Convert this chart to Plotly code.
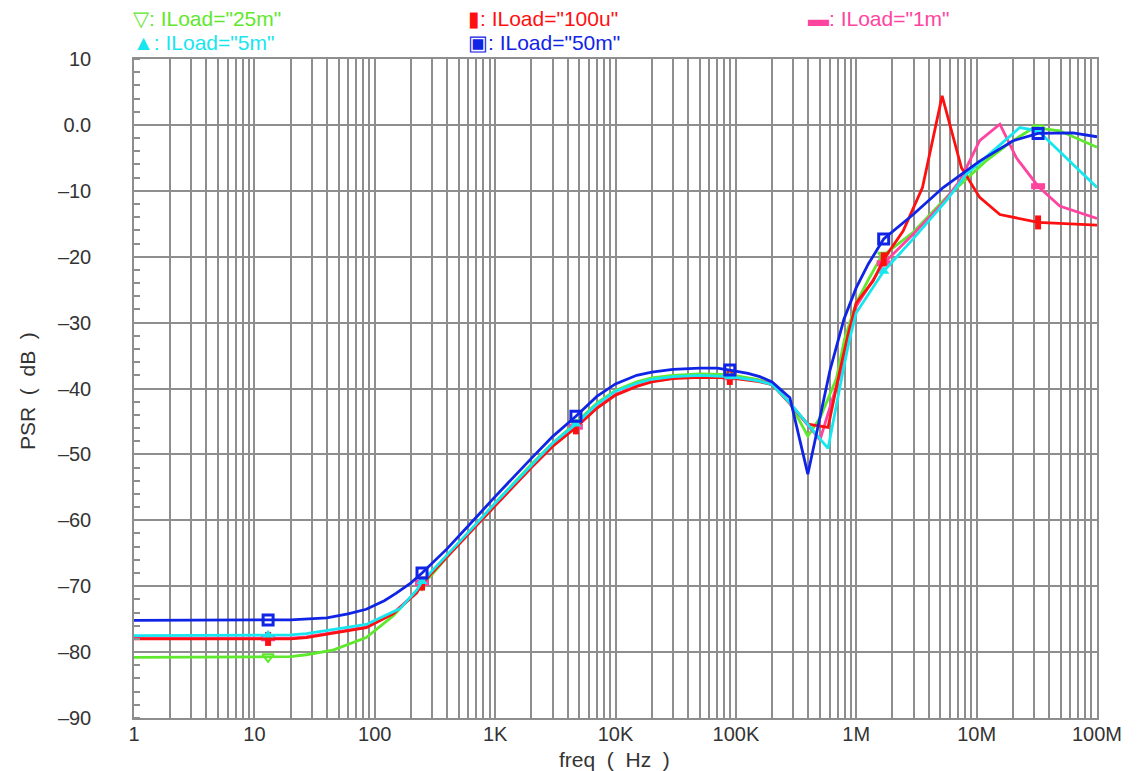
import numpy as np
import plotly.graph_objects as go

# PSR vs frequency, one sweep per load current (freq in Hz, PSR in dB)
freq_25m = [1, 20, 27, 45, 85, 142, 223, 300, 500, 1e3, 2e3, 3e3, 4.69e3, 7e3, 1e4, 1.5e4, 2e4, 3e4,
            5e4, 8.9e4, 1.5e5, 2e5, 2.81e5, 3.96e5, 5e5, 6.85e5, 8e5, 1e6, 1.26e6, 1.6e6, 2.97e6,
            5.6e6, 1.19e7, 2e7, 3e7, 4.9e7, 1e8]
psr_25m = [-80.8, -80.7, -80.4, -79.7, -77.8, -74.5, -70.7, -68.2, -63.5, -57.4, -51.5, -48.3,
           -45.2, -42.2, -40.3, -39.0, -38.4, -38.0, -37.8, -37.9, -38.6, -39.2, -42.2, -47.2,
           -44.5, -38.5, -32.5, -27.0, -23.5, -20.1, -16.3, -11.0, -5.5, -2.4, -0.4, -0.9, -3.4]

freq_100u = [1, 20, 27, 85, 142, 223, 247, 400, 700, 1e3, 2e3, 3e3, 4.69e3, 7e3, 1e4, 1.5e4, 2e4,
             3e4, 5e4, 8.9e4, 1.5e5, 2e5, 2.81e5, 3.96e5, 5.83e5, 7.31e5, 8.5e5, 1e6, 1.38e6, 1.69e6,
             2.45e6, 3.55e6, 5.17e6, 7.48e6, 1.06e7, 1.56e7, 3.24e7, 1e8]
psr_100u = [-78.0, -78.0, -77.8, -76.3, -74.2, -71.0, -69.6, -65.6, -60.8, -57.8, -52.0, -48.8,
            -45.9, -43.0, -41.0, -39.7, -39.0, -38.5, -38.3, -38.4, -38.9, -39.4, -42.3, -45.4,
            -45.9, -37.3, -32.0, -27.0, -23.7, -20.4, -16.1, -9.5, 4.4, -6.5, -11.0, -13.6,
            -14.8, -15.2]

freq_1m = [1, 20, 27, 85, 142, 223, 247, 400, 700, 1e3, 2e3, 3e3, 4.69e3, 7e3, 1e4, 1.5e4, 2e4,
           3e4, 5e4, 8.9e4, 1.5e5, 2e5, 2.81e5, 5e5, 7.5e5, 8.5e5, 1e6, 1.69e6, 2.97e6, 5.27e6,
           7.25e6, 1.06e7, 1.56e7, 2.14e7, 3.24e7, 4.9e7, 1e8]
psr_1m = [-77.9, -77.9, -77.7, -76.2, -74.1, -70.9, -69.5, -65.5, -60.7, -57.7, -51.9, -48.7,
          -45.8, -42.9, -40.9, -39.6, -38.9, -38.4, -38.2, -38.3, -38.8, -39.3, -42.3, -47.8,
          -37.3, -33.0, -27.5, -21.0, -16.6, -11.8, -8.5, -2.4, 0.1, -5.0, -9.3, -12.3, -14.2]

freq_5m = [1, 20, 27, 85, 162, 223, 247, 400, 700, 1e3, 2e3, 3e3, 4.69e3, 7e3, 1e4, 1.5e4, 2e4,
           3e4, 5e4, 8.9e4, 1.5e5, 2e5, 2.81e5, 5.83e5, 7.77e5, 8.8e5, 1e6, 1.69e6, 2.97e6, 5.6e6,
           8.2e6, 1.56e7, 2.28e7, 3.24e7, 5.57e7, 1e8]
psr_5m = [-77.5, -77.4, -77.2, -75.8, -73.4, -70.6, -69.3, -65.3, -60.5, -57.4, -51.6, -48.3,
          -45.4, -42.4, -40.4, -39.2, -38.6, -38.2, -38.0, -38.2, -38.8, -39.4, -42.2, -49.1,
          -37.3, -32.5, -28.5, -22.2, -17.3, -11.5, -7.5, -3.0, -0.4, -0.9, -5.0, -9.5]

freq_50m = [1, 20, 40, 60, 85, 120, 150, 200, 247, 400, 700, 1e3, 2e3, 3e3, 4.69e3, 7e3, 1e4,
            1.5e4, 2e4, 3e4, 5e4, 7e4, 8.9e4, 1.26e5, 1.58e5, 2e5, 2.81e5, 3.96e5, 6.04e5, 7.9e5,
            1e6, 1.26e6, 1.69e6, 2.97e6, 5.27e6, 1.06e7, 2.01e7, 3.24e7, 6.3e7, 1e8]
psr_50m = [-75.2, -75.1, -74.8, -74.2, -73.5, -72.2, -71.1, -69.5, -68.0, -64.3, -59.5, -56.4,
           -50.6, -47.3, -44.2, -41.2, -39.3, -38.0, -37.5, -37.1, -36.9, -36.9, -37.2, -37.7,
           -38.2, -39.0, -41.4, -53.0, -37.3, -29.5, -24.7, -21.1, -17.3, -13.6, -9.5, -5.5,
           -2.4, -1.3, -1.2, -1.8]

# frequencies where the series symbols are drawn
marker_freq = [13, 247, 4.69e3, 8.9e4, 1.69e6, 3.24e7]

series = [
    ("25m", freq_25m, psr_25m, "#5fe82e", dict(symbol="triangle-down-open", size=10, line=dict(width=2)), "\u25bd"),
    ("1m", freq_1m, psr_1m, "#ff44a0", dict(symbol="line-ew-open", size=10, line=dict(width=6)), "\u25ac"),
    ("100u", freq_100u, psr_100u, "#ff1010", dict(symbol="line-ns-open", size=10, line=dict(width=6)), "\u25ae"),
    ("5m", freq_5m, psr_5m, "#18e6ee", dict(symbol="triangle-up", size=10), "\u25b2"),
    ("50m", freq_50m, psr_50m, "#1024e6", dict(symbol="square-open", size=10, line=dict(width=3)), "\u25a3"),
]

fig = go.Figure()
for name, f, v, color, mk, glyph in series:
    fig.add_trace(go.Scatter(x=f, y=v, mode="lines", line=dict(color=color, width=2.8),
                             name=f'ILoad="{name}"', showlegend=False))
    lf = np.log10(np.array(f, dtype=float))
    my = np.interp(np.log10(marker_freq), lf, v)
    mk = dict(mk)
    mk["color"] = color
    if "line" in mk:
        mk["line"] = dict(mk["line"], color=color)
    fig.add_trace(go.Scatter(x=marker_freq, y=my, mode="markers", marker=mk, showlegend=False,
                             hoverinfo="skip"))

FONT = "Liberation Sans, Arial, sans-serif"
grid = "#8e8e8e"

# x ticks: gridline at every 1..9 x decade, labels on decades only
dec_labels = ["1", "10", "100", "1K", "10K", "100K", "1M", "10M", "100M"]
xt, xtt = [], []
for d in range(9):
    for m in range(1, 10):
        if d == 8 and m > 1:
            break
        xt.append(m * 10 ** d)
        xtt.append(dec_labels[d] if m == 1 else "")

yt = list(range(-90, 11, 10))
ytt = ["0.0" if v == 0 else ("\u2013" + str(-v) if v < 0 else str(v)) for v in yt]

fig.update_xaxes(type="log", range=[0, 8], tickvals=xt, ticktext=xtt, showgrid=True,
                 gridcolor=grid, gridwidth=1.5, showline=True, mirror=True, linecolor=grid,
                 linewidth=1.5, ticks="", zeroline=False,
                 tickfont=dict(family=FONT, size=20, color="#333"), ticklabelstandoff=-3)
fig.update_yaxes(range=[-90, 10], tickvals=yt, ticktext=ytt, showgrid=True, gridcolor=grid,
                 gridwidth=1.5, showline=True, mirror=True, linecolor=grid, linewidth=1.5,
                 ticks="", zeroline=False,
                 tickfont=dict(family=FONT, size=20, color="#333"), ticklabelstandoff=37,
                 minor=dict(dtick=2, ticks="inside", ticklen=6, tickcolor=grid, tickwidth=1.5,
                            showgrid=False))

W, H = 1147, 771
L, R, T, B = 134, 50, 59, 53
pw, ph = W - L - R, H - T - B

def px(x):
    return (x - L) / pw

def py(y):
    return (H - B - y) / ph

NB = "\u00a0"
ann = [
    dict(text=f"freq{NB}{NB}({NB}{NB}Hz{NB}{NB})", x=px(614), y=py(759),
         font=dict(size=21, color="#333", family=FONT)),
    dict(text=f"PSR{NB}{NB}({NB}{NB}dB{NB}{NB})", x=px(27), y=py(391), textangle=-90,
         font=dict(size=21, color="#333", family=FONT)),
]
legend_pos = {"25m": (131, 18), "100u": (466, 18), "1m": (806, 18), "5m": (131, 42), "50m": (466, 42)}
for name, f, v, color, mk, glyph in series:
    lx, ly = legend_pos[name]
    ann.append(dict(text=f'{glyph}: ILoad="{name}"', x=px(lx), y=py(ly), xanchor="left",
                    font=dict(size=21, color=color, family=FONT)))
for a in ann:
    a.setdefault("xanchor", "center")
    a.update(xref="paper", yref="paper", yanchor="middle", showarrow=False)

fig.update_layout(width=W, height=H, margin=dict(l=L, r=R, t=T, b=B),
                  plot_bgcolor="white", paper_bgcolor="white", annotations=ann,
                  showlegend=False)

fig.write_html("out.html")
